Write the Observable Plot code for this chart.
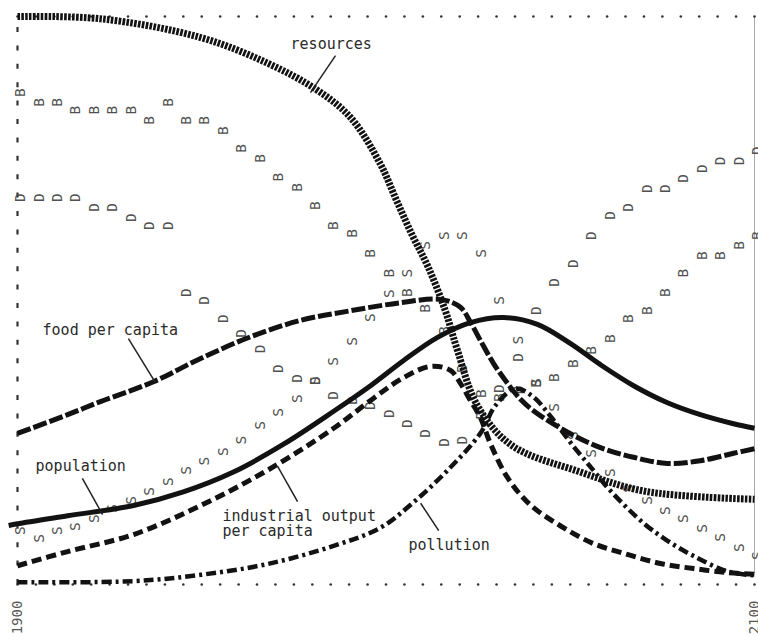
<!DOCTYPE html>
<html>
<head>
<meta charset="utf-8">
<script src="https://cdn.jsdelivr.net/npm/d3@7"></script>
<script src="https://cdn.jsdelivr.net/npm/@observablehq/plot@0.6"></script>
<style>
  html, body { margin: 0; padding: 0; background: #fff; }
  #chart svg { display: block; }
</style>
</head>
<body>
<div id="chart"></div>
<script>
// ---- Data (values are fractions of the plot height) ----
const letterYears = [1900,1905,1910,1915,1920,1925,1930,1935,1940,1945,1950,1955,1960,1965,1970,1975,1980,1985,1990,1995,2000,2005,2010,2015,2020,2025,2030,2035,2040,2045,2050,2055,2060,2065,2070,2075,2080,2085,2090,2095,2100];

// B = birth rate
const birthRate = [0.866,0.849,0.849,0.835,0.835,0.835,0.835,0.817,0.849,0.817,0.817,0.799,0.768,0.750,0.717,0.699,0.667,0.632,0.618,0.583,0.548,0.514,0.486,0.447,0.380,0.336,0.329,0.342,0.354,0.364,0.389,0.412,0.433,0.468,0.482,0.514,0.548,0.579,0.579,0.597,0.614];
// D = death rate
const deathRate = [0.681,0.681,0.681,0.681,0.664,0.664,0.646,0.632,0.632,0.514,0.500,0.468,0.442,0.415,0.380,0.363,0.359,0.333,0.324,0.315,0.301,0.283,0.266,0.250,0.254,0.298,0.345,0.400,0.482,0.532,0.565,0.614,0.650,0.664,0.697,0.697,0.715,0.732,0.746,0.746,0.764];
// S = services per capita
const services = [0.095,0.081,0.095,0.102,0.116,0.134,0.148,0.164,0.181,0.201,0.217,0.234,0.254,0.280,0.303,0.327,0.359,0.393,0.428,0.470,0.512,0.548,0.597,0.614,0.614,0.583,0.500,0.430,0.356,0.312,0.262,0.231,0.197,0.169,0.148,0.130,0.116,0.099,0.083,0.065,0.051];

const resourcesYears = [1900,1922.5,1949.7,1967.8,1981.4,1990.4,1998.5,2002.6,2006.9,2011.5,2016.1,2019.4,2024.8,2034.1,2052.3,2070.4,2100];
const resourcesVals  = [1.000,0.996,0.963,0.918,0.870,0.822,0.740,0.680,0.618,0.558,0.482,0.412,0.315,0.245,0.199,0.164,0.150];

const foodYears = [1900,1913.6,1922.5,1936.9,1949.7,1963.2,1976.8,1990.4,2003.9,2014.8,2020.2,2022.9,2025.6,2029.2,2033.0,2036.5,2040.0,2049.3,2058.2,2067.2,2076.4,2085.3,2094.3,2100];
const foodVals  = [0.266,0.299,0.322,0.357,0.398,0.436,0.465,0.482,0.496,0.502,0.488,0.462,0.430,0.389,0.354,0.326,0.306,0.268,0.241,0.224,0.213,0.218,0.231,0.239];

const popYears = [1897.6,1900,1913.6,1931.5,1945.0,1958.6,1972.2,1985.8,1995.8,2004.7,2014.0,2022.9,2031.9,2041.1,2050.1,2058.2,2067.2,2076.4,2085.3,2094.3,2100];
const popVals  = [0.104,0.107,0.121,0.139,0.163,0.198,0.247,0.305,0.350,0.394,0.435,0.461,0.470,0.458,0.424,0.387,0.350,0.320,0.299,0.283,0.275];

const indYears = [1900,1913.6,1931.5,1949.7,1967.8,1985.8,1995.8,2004.7,2012.1,2017.5,2020.2,2022.9,2025.6,2028.4,2033.0,2039.2,2047.4,2056.3,2065.5,2074.5,2083.5,2092.7,2100];
const indVals  = [0.033,0.058,0.088,0.139,0.201,0.275,0.324,0.364,0.384,0.377,0.354,0.324,0.294,0.247,0.188,0.140,0.103,0.072,0.053,0.037,0.028,0.021,0.018];

const pollYears = [1900,1931.5,1949.7,1967.8,1985.8,1998.5,2007.5,2016.7,2025.6,2029.7,2035.1,2040.0,2044.9,2050.9,2056.3,2060.9,2069.9,2076.4,2083.5,2092.7,2100];
const pollVals  = [0.004,0.006,0.017,0.036,0.068,0.100,0.145,0.201,0.266,0.315,0.345,0.330,0.294,0.243,0.201,0.165,0.108,0.077,0.050,0.023,0.016];

// Annotation labels and pointer lines (data units)
const labelText = ["resources","food per capita","population","industrial output","per capita","pollution"];
const labelYear = [1974.1,1906.8,1904.9,1955.6,1955.6,2006.1];
const labelVal  = [0.952,0.447,0.208,0.120,0.093,0.069];

const pointerYear1 = [1986.3,1930.1,1917.6,1970.6,2009.4];
const pointerVal1  = [0.931,0.433,0.187,0.208,0.143];
const pointerYear2 = [1979.5,1937.4,1923.1,1976.0,2014.3];
const pointerVal2  = [0.866,0.356,0.123,0.146,0.095];

const endYears = [1900, 2100];

// ---- Build tables ----
const zipXY = (xs, ys) => xs.map((x, i) => ({x, y: ys[i]}));
const letters = [
  ...zipXY(letterYears, services).map(d => ({...d, t: "S"})),
  ...zipXY(letterYears, deathRate).map(d => ({...d, t: "D"})),
  ...zipXY(letterYears, birthRate).map(d => ({...d, t: "B"}))
];
const labels = labelText.map((t, i) => ({t, x: labelYear[i], y: labelVal[i]}));
const pointers = pointerYear1.map((x, i) => ({x1: x, y1: pointerVal1[i], x2: pointerYear2[i], y2: pointerVal2[i]}));

const ink = "#121212";
const mono = "'DejaVu Sans Mono', 'Liberation Mono', monospace";
const lineOpts = {x: "x", y: "y", curve: "catmull-rom", stroke: ink, strokeLinecap: "butt", strokeLinejoin: "round"};

const chart = Plot.plot({
  width: 758,
  height: 637,
  marginLeft: 17,
  marginRight: 4,
  marginTop: 16,
  marginBottom: 53,
  x: {domain: [1900, 2100], axis: null},
  y: {domain: [0, 1], axis: null},
  style: {background: "#fff", fontFamily: mono},
  marks: [
    // frame
    Plot.ruleX([1900], {y1: 0, y2: 1, stroke: "#333", strokeWidth: 2.2, strokeDasharray: "5,13.4", strokeLinecap: "butt"}),
    Plot.ruleX([2100], {y1: 0.02, y2: 1, stroke: "#aaa", strokeWidth: 1}),
    Plot.dot(letterYears, {x: d => d, y: 1, r: 1.3, fill: "#333", stroke: null}),
    Plot.dot(letterYears, {x: d => d, y: 0, r: 1.3, fill: "#333", stroke: null}),
    // letter series (rotated printer characters)
    Plot.text(letters, {x: "x", y: "y", text: "t", rotate: -90, fontSize: 14.5, fill: "#505050", dx: 3}),
    // curves
    Plot.line(zipXY(resourcesYears, resourcesVals), {...lineOpts, strokeWidth: 7, strokeDasharray: "2.6,1.3"}),
    Plot.line(zipXY(foodYears, foodVals), {...lineOpts, strokeWidth: 5, strokeDasharray: "14,3"}),
    Plot.line(zipXY(popYears, popVals), {...lineOpts, strokeWidth: 5}),
    Plot.line(zipXY(indYears, indVals), {...lineOpts, strokeWidth: 5, strokeDasharray: "10,5"}),
    Plot.line(zipXY(pollYears, pollVals), {...lineOpts, strokeWidth: 4.5, strokeDasharray: "10,4,3,4"}),
    // annotations
    Plot.link(pointers, {x1: "x1", y1: "y1", x2: "x2", y2: "y2", stroke: "#222", strokeWidth: 1.5}),
    Plot.text(labels, {x: "x", y: "y", text: "t", textAnchor: "start", fontSize: 15, fill: "#2a2a2a"}),
    Plot.text(endYears, {x: d => d, y: 0, text: d => String(d), rotate: -90, dy: 33, fontSize: 14, fill: "#555"})
  ]
});
document.getElementById("chart").appendChild(chart);
</script>
</body>
</html>
